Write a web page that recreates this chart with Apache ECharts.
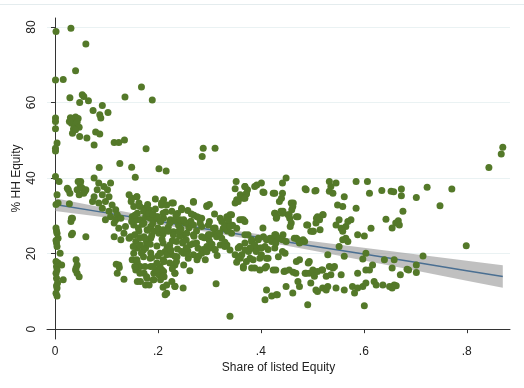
<!DOCTYPE html>
<html>
<head>
<meta charset="utf-8">
<script src="https://cdn.jsdelivr.net/npm/echarts@6/dist/echarts.min.js"></script>
<style>html,body{margin:0;padding:0;background:#fff}#c{width:524px;height:388px}</style>
</head>
<body>
<div id="c"></div>
<script>
// Tick values and labels
const xTicks = [0, 0.2, 0.4, 0.6, 0.8];
const xTickLabels = ['0', '.2', '.4', '.6', '.8'];
const yTicks = [0, 20, 40, 60, 80];

// Scatter points [share of listed equity, % HH equity]
const pointsLeftColumn = [
  [0.002,78.8],[0.001,66.0],[0.001,55.9],[0.001,55.0],[0.001,53.1],[0.004,49.3],[0.001,47.9],[0.001,47.2],
  [0.001,40.4],[0.008,39.1],[0.004,35.6],[0.006,33.4],[0.002,33.0],[0.002,26.8],[0.004,25.4],[0.006,24.1],
  [0.003,22.8],[0.004,21.9],[0.010,20.1],[0.002,17.9],[0.006,17.5],[0.003,16.6],[0.004,15.7],[0.002,14.8],
  [0.003,13.5],[0.005,12.2],[0.004,10.9],[0.002,9.5],[0.004,8.8],[0.003,11.5],[0.002,23.5],[0.003,26.0],
  [0.013,17.0],[0.016,13.1]
];
const pointsHigh = [
  [0.031,79.7],[0.060,75.5],[0.040,68.4],[0.016,66.1],[0.029,61.3],[0.053,62.1],[0.056,61.6],[0.048,60.0],
  [0.065,60.5],[0.136,61.5],[0.168,64.1],[0.189,60.7],[0.030,56.0],[0.035,55.5],[0.040,56.2],[0.045,55.8],
  [0.032,54.5],[0.038,54.0],[0.043,54.8],[0.036,53.0],[0.047,53.5],[0.028,55.0],[0.034,51.9],[0.040,52.8],
  [0.048,51.0],[0.062,50.6],[0.074,57.9],[0.092,59.2],[0.087,56.8],[0.089,55.9],[0.103,57.4],[0.079,52.2],
  [0.087,51.7],[0.076,48.8],[0.115,49.4],[0.124,49.4],[0.135,50.1],[0.177,47.8],[0.086,42.8],[0.126,43.9],
  [0.149,42.9],[0.156,40.2],[0.202,42.5],[0.216,41.9],[0.288,47.9],[0.311,47.9],[0.286,45.7],
  [0.870,48.2],[0.867,46.4],[0.843,42.8]
];
const pointsLowX = [
  [0.026,36.9],[0.028,33.2],[0.032,29.4],[0.031,28.5],[0.032,25.0],[0.060,24.5],[0.045,39.1],[0.049,38.2],
  [0.052,37.3],[0.043,36.9],[0.058,36.5],[0.024,37.3],[0.029,36.0],[0.050,39.1],[0.053,37.3],[0.060,36.9],
  [0.056,36.0],[0.047,35.6],[0.034,29.4],[0.034,25.4],[0.041,18.4],[0.043,17.0],[0.040,15.7],[0.043,14.8],
  [0.047,13.9],[0.041,16.2]
];
const pointsCluster = [
  [0.076,40.0],[0.085,38.7],[0.095,37.8],[0.082,36.9],[0.076,35.1],[0.073,33.8],[0.085,33.4],[0.092,35.6],
  [0.102,36.9],[0.108,38.7],[0.105,35.1],[0.098,33.8],[0.111,32.9],[0.092,32.0],[0.105,31.2],[0.118,31.6],
  [0.121,30.3],[0.108,29.8],[0.098,29.0],[0.118,29.0],[0.128,29.4],[0.115,28.1],[0.124,26.7],[0.134,25.4],
  [0.115,24.5],[0.128,23.7],[0.144,24.1],[0.137,27.2],[0.144,35.6],[0.148,33.8],[0.153,32.5],[0.159,35.1],
  [0.163,33.4],[0.160,30.7],[0.150,29.8],[0.166,29.0],[0.173,28.1],[0.153,27.6],[0.163,25.9],[0.147,24.5],
  [0.157,23.2],[0.166,22.3],[0.173,24.5],[0.179,26.3],[0.186,27.2],[0.192,29.0],[0.199,29.8],[0.205,28.5],
  [0.176,29.8],[0.183,31.6],[0.192,25.9],[0.202,25.4],[0.186,24.1],[0.176,21.5],[0.160,21.5],[0.153,20.1],
  [0.150,18.4],[0.160,17.5],[0.166,16.6],[0.157,15.7],[0.173,14.8],[0.186,16.6],[0.192,14.8],[0.179,13.5],
  [0.192,13.1],[0.202,14.4],[0.205,13.1],[0.208,15.7],[0.166,12.6],[0.176,11.7],[0.134,13.2],[0.124,17.0],
  [0.119,17.2],[0.125,16.3],[0.121,14.8],[0.159,18.4],[0.162,16.6],[0.165,14.8],[0.160,12.6],[0.178,13.9],
  [0.183,11.7],[0.191,13.1],[0.196,15.7],[0.204,16.6],[0.212,13.9],[0.217,9.5],[0.210,11.1],[0.227,12.6],
  [0.233,11.3]
];
const pointsDense = [
  [0.159,35.1],[0.149,34.7],[0.211,34.3],[0.207,32.9],[0.227,33.4],[0.246,32.0],[0.269,33.8],[0.295,32.5],
  [0.175,32.0],[0.165,32.5],[0.172,31.2],[0.185,29.4],[0.198,29.8],[0.211,29.4],[0.224,29.0],[0.276,29.8],
  [0.285,29.4],[0.321,29.4],[0.334,29.8],[0.243,28.5],[0.256,28.1],[0.311,26.8],[0.298,25.0],[0.321,22.3],
  [0.334,22.3],[0.311,21.0],[0.295,21.9],[0.285,20.1],[0.276,18.4],[0.259,18.8],[0.250,20.1],[0.237,19.2],
  [0.233,17.0],[0.211,17.9],[0.198,17.5],[0.185,18.8],[0.172,19.2],[0.159,17.9],[0.155,16.6],[0.175,16.6],
  [0.191,16.6],[0.211,15.3],[0.233,14.8],[0.152,21.9],[0.165,22.3],[0.155,25.0],[0.162,26.8],[0.149,28.5],
  [0.160,29.0],[0.170,27.8],[0.180,26.2],[0.190,28.0],[0.200,26.8],[0.210,25.2],[0.220,27.0],[0.230,25.8],
  [0.240,27.5],[0.250,25.0],[0.260,26.8],[0.270,24.6],[0.165,24.2],[0.178,23.0],[0.188,24.8],[0.198,22.0],
  [0.208,23.8],[0.218,21.6],[0.228,23.4],[0.238,21.2],[0.248,22.8],[0.258,20.8],[0.268,22.6],[0.278,21.4],
  [0.172,21.0],[0.186,20.2],[0.200,19.4],[0.214,20.6],[0.226,19.8],[0.242,24.6],[0.255,23.6],[0.264,28.6],
  [0.232,28.8],[0.205,28.6],[0.182,30.6],[0.195,31.8],[0.215,31.0],[0.238,30.6],[0.258,31.4],[0.270,30.2],
  [0.285,27.2],[0.290,24.2],[0.300,23.4],[0.310,25.2],[0.155,30.2],[0.168,20.2]
];
const pointsMid = [
  [0.352,39.1],[0.369,37.8],[0.374,36.9],[0.360,35.6],[0.353,34.3],[0.366,34.7],[0.372,36.0],[0.350,33.4],
  [0.392,38.2],[0.401,38.7],[0.406,36.2],[0.427,36.0],[0.427,30.7],[0.430,29.4],[0.207,33.4],[0.217,32.9],
  [0.230,33.4],[0.210,30.7],[0.227,31.2],[0.246,31.6],[0.269,33.6],[0.295,32.7],[0.243,29.0],[0.223,28.1],
  [0.253,28.1],[0.269,27.6],[0.282,28.1],[0.298,27.6],[0.308,26.7],[0.324,28.5],[0.334,29.4],[0.343,30.3],
  [0.337,28.1],[0.327,26.7],[0.343,25.4],[0.353,26.7],[0.363,29.0],[0.369,28.5],[0.210,26.3],[0.220,25.9],
  [0.230,25.0],[0.240,25.9],[0.256,25.4],[0.269,25.0],[0.285,24.5],[0.301,25.0],[0.314,24.5],[0.324,24.1],
  [0.210,22.8],[0.223,22.3],[0.236,23.2],[0.249,23.2],[0.262,22.3],[0.275,22.8],[0.288,21.1],[0.301,21.5],
  [0.311,21.1],[0.327,22.3],[0.204,20.1],[0.217,19.7],[0.233,19.3],[0.246,20.6],[0.256,20.1],[0.269,19.7],
  [0.279,19.3],[0.292,18.4],[0.210,18.4],[0.223,17.5],[0.236,17.9],[0.356,21.5],[0.369,22.8],[0.382,23.2],
  [0.395,23.7],[0.405,24.5],[0.418,24.1],[0.430,23.7],[0.363,19.7],[0.376,20.6],[0.389,21.1],[0.401,21.5],
  [0.414,21.1],[0.427,21.5],[0.360,18.8],[0.372,17.9],[0.385,18.4],[0.398,18.8],[0.411,18.8],[0.366,16.2],
  [0.382,16.2],[0.398,15.7],[0.411,16.6],[0.210,14.0],[0.233,14.8],[0.217,11.7],[0.233,11.4],[0.249,10.9],
  [0.214,9.1],[0.313,12.0],[0.340,3.4],[0.411,10.4],[0.408,7.8],[0.421,8.8],[0.430,9.1],
  [0.175,24.0],[0.185,22.5],[0.190,30.5],[0.225,21.0],[0.235,30.0],[0.245,26.5],[0.250,29.0],[0.255,21.5],
  [0.265,30.5],[0.275,26.0],[0.280,29.5],[0.295,20.5],[0.300,28.5],[0.305,22.5],[0.315,19.5],[0.320,25.5],
  [0.330,23.0],[0.335,26.0],[0.340,21.0],[0.345,27.5],[0.188,19.0],[0.212,18.0],[0.228,16.0],[0.250,17.0],
  [0.262,15.5],[0.180,33.0],[0.195,34.5],[0.300,33.0],[0.310,30.5]
];
const pointsMidRight = [
  [0.350,37.2],[0.369,37.8],[0.388,37.8],[0.404,36.3],[0.424,36.0],[0.372,35.8],[0.356,33.8],[0.369,34.7],
  [0.440,34.7],[0.463,33.4],[0.486,37.2],[0.505,36.6],[0.460,31.6],[0.443,31.2],[0.427,30.7],[0.431,29.8],
  [0.453,30.3],[0.469,29.8],[0.456,29.4],[0.521,30.3],[0.508,29.4],[0.340,30.3],[0.337,29.0],[0.359,29.0],
  [0.366,29.0],[0.330,27.2],[0.340,27.2],[0.489,27.6],[0.502,25.9],[0.515,26.3],[0.404,26.8],[0.427,25.0],
  [0.443,25.0],[0.437,24.1],[0.395,24.1],[0.382,23.7],[0.369,25.0],[0.375,25.0],[0.411,23.7],[0.421,23.2],
  [0.469,24.1],[0.482,23.7],[0.408,21.9],[0.398,21.5],[0.388,22.3],[0.379,21.5],[0.359,21.9],[0.369,21.0],
  [0.330,21.9],[0.391,20.6],[0.401,19.7],[0.356,19.2],[0.379,18.8],[0.414,18.8],[0.434,19.2],[0.447,20.1],
  [0.469,17.9],[0.492,17.5],[0.366,16.6],[0.388,16.2],[0.408,16.2],[0.424,15.7],[0.447,15.4],[0.463,15.1],
  [0.486,14.8],[0.502,15.4],[0.518,15.7],[0.353,17.7],[0.350,19.7]
];
const pointsRight = [
  [0.449,40.0],[0.442,38.7],[0.442,36.0],[0.436,33.8],[0.439,31.2],[0.442,30.7],[0.459,33.4],[0.462,32.5],
  [0.455,30.3],[0.459,28.1],[0.457,27.2],[0.472,29.8],[0.488,36.9],[0.507,36.7],[0.533,39.1],[0.536,37.8],
  [0.546,38.7],[0.533,36.5],[0.540,36.0],[0.562,35.1],[0.549,32.9],[0.559,32.5],[0.585,39.1],[0.607,39.1],
  [0.611,36.0],[0.635,36.7],[0.653,36.5],[0.585,32.0],[0.643,29.1],[0.662,28.1],[0.510,29.8],[0.520,30.3],
  [0.514,29.0],[0.507,28.1],[0.491,27.6],[0.501,25.9],[0.497,25.9],[0.552,29.0],[0.546,27.6],[0.556,26.7],
  [0.565,27.2],[0.569,28.5],[0.559,25.9],[0.575,29.0],[0.614,26.7],[0.588,25.0],[0.601,24.7],[0.565,24.1],
  [0.569,23.2],[0.559,23.7],[0.552,21.9],[0.429,25.0],[0.436,24.1],[0.442,23.7],[0.449,23.2],[0.429,22.8],
  [0.442,20.6],[0.465,24.1],[0.472,23.7],[0.478,23.2],[0.485,23.2],[0.475,22.8],[0.530,19.7],[0.562,19.3],
  [0.604,20.1],[0.617,17.0],[0.598,18.6],[0.640,18.4],[0.659,18.4],[0.475,18.4],[0.494,17.9],[0.429,15.7],
  [0.445,15.3],[0.455,15.7],[0.468,14.8],[0.488,14.8],[0.494,14.8],[0.501,15.7],[0.510,15.3],[0.520,15.7],
  [0.533,16.6],[0.543,16.6],[0.540,16.2],[0.527,14.0],[0.536,14.4],[0.504,14.0],[0.556,14.4],[0.588,14.8],
  [0.604,15.7],[0.611,15.7],[0.449,11.3],[0.462,9.6],[0.472,12.6],[0.475,11.3],[0.497,12.2],[0.507,10.4],
  [0.510,10.0],[0.520,10.9],[0.527,10.4],[0.530,11.3],[0.546,10.9],[0.562,10.4],[0.578,11.3],[0.582,9.6],
  [0.588,10.9],[0.598,11.3],[0.604,12.2],[0.620,12.6],[0.624,11.7],[0.637,11.7],[0.650,11.3],[0.659,11.7],
  [0.432,9.1],[0.491,6.5],[0.601,6.2]
];
const pointsFarRight = [
  [0.673,37.1],[0.673,35.3],[0.658,36.4],[0.723,37.6],[0.771,37.1],[0.702,34.9],[0.748,32.7],[0.676,31.2],
  [0.667,28.7],[0.669,27.6],[0.655,26.8],[0.799,22.1],[0.715,19.4],[0.702,17.0],[0.702,15.0],[0.684,15.9],
  [0.687,15.7],[0.671,14.4],[0.655,16.2],[0.663,11.5],[0.655,10.9]
];

// Linear fit and confidence band
const fitX = [0, 0.1, 0.2, 0.3, 0.4, 0.5, 0.6, 0.7, 0.8, 0.87];
const fitY = [33.0, 30.8, 28.6, 26.4, 24.2, 22.05, 19.9, 17.7, 15.5, 13.95];
const bandLow = [31.3, 29.56, 27.73, 25.7, 23.33, 20.81, 18.21, 15.54, 12.85, 10.95];
const bandHigh = [34.7, 32.04, 29.47, 27.1, 25.07, 23.29, 21.59, 19.86, 18.15, 16.95];

const allPoints = [].concat(pointsLeftColumn, pointsHigh, pointsLowX, pointsCluster, pointsDense,
  pointsMid, pointsMidRight, pointsRight, pointsFarRight);
const fitLine = fitX.map((x, i) => [x, fitY[i]]);
const bandData = fitX.map((x, i) => [x, bandLow[i], bandHigh[i]]);

const chart = echarts.init(document.getElementById('c'), null, {renderer: 'canvas'});
const textFont = 'Liberation Sans, Arial, sans-serif';
chart.setOption({
  animation: false,
  backgroundColor: '#ffffff',
  graphic: [{
    type: 'line', shape: {x1: 0, y1: 4.5, x2: 524, y2: 4.5},
    style: {stroke: '#e4ecee', lineWidth: 1}, silent: true
  }],
  grid: {left: 47, right: 14, top: 18, bottom: 49, containLabel: false, outerBoundsMode: 'none'},
  xAxis: {
    type: 'value', min: -0.0155, max: 0.884,
    name: 'Share of listed Equity', nameLocation: 'middle', nameGap: 23, nameMoveOverlap: false,
    nameTextStyle: {color: '#222', fontSize: 12, fontFamily: textFont},
    axisLine: {show: true, lineStyle: {color: '#333', width: 1}},
    axisTick: {show: true, length: 4, customValues: xTicks, lineStyle: {color: '#333'}},
    axisLabel: {customValues: xTicks, margin: 7, color: '#222', fontSize: 12, fontFamily: textFont,
      formatter: v => { const i = xTicks.findIndex(t => Math.abs(t - v) < 1e-9); return i >= 0 ? xTickLabels[i] : ''; }},
    splitLine: {show: false}
  },
  yAxis: {
    type: 'value', min: -2.6, max: 82.4,
    name: '% HH Equity', nameLocation: 'middle', nameGap: 24, nameRotate: 90, nameMoveOverlap: false,
    nameTextStyle: {color: '#222', fontSize: 12, fontFamily: textFont},
    axisLine: {show: true, lineStyle: {color: '#333', width: 1}},
    axisTick: {show: true, length: 4, customValues: yTicks, lineStyle: {color: '#333'}},
    axisLabel: {customValues: yTicks, rotate: 90, margin: 9, color: '#222', fontSize: 12, fontFamily: textFont},
    splitLine: {show: true, lineStyle: {color: '#eaf2f3', width: 1}}
  },
  series: [
    {
      type: 'custom', data: bandData, z: 2, silent: true,
      renderItem: function (params, api) {
        if (params.dataIndex !== 0) return null;
        const top = [], bottom = [];
        for (let i = 0; i < bandData.length; i++) {
          top.push(api.coord([bandData[i][0], bandData[i][2]]));
          bottom.push(api.coord([bandData[i][0], bandData[i][1]]));
        }
        return {type: 'polygon', shape: {points: top.concat(bottom.reverse())},
          style: {fill: 'rgba(140,140,140,0.55)', stroke: null}};
      }
    },
    {
      type: 'line', data: fitLine, showSymbol: false, symbol: 'none', z: 3,
      lineStyle: {color: '#4a6f92', width: 1.5}
    },
    {
      type: 'scatter', data: allPoints, symbol: 'circle', symbolSize: 7,
      itemStyle: {color: '#547929', opacity: 1}, z: 4
    }
  ]
});
</script>
</body>
</html>
